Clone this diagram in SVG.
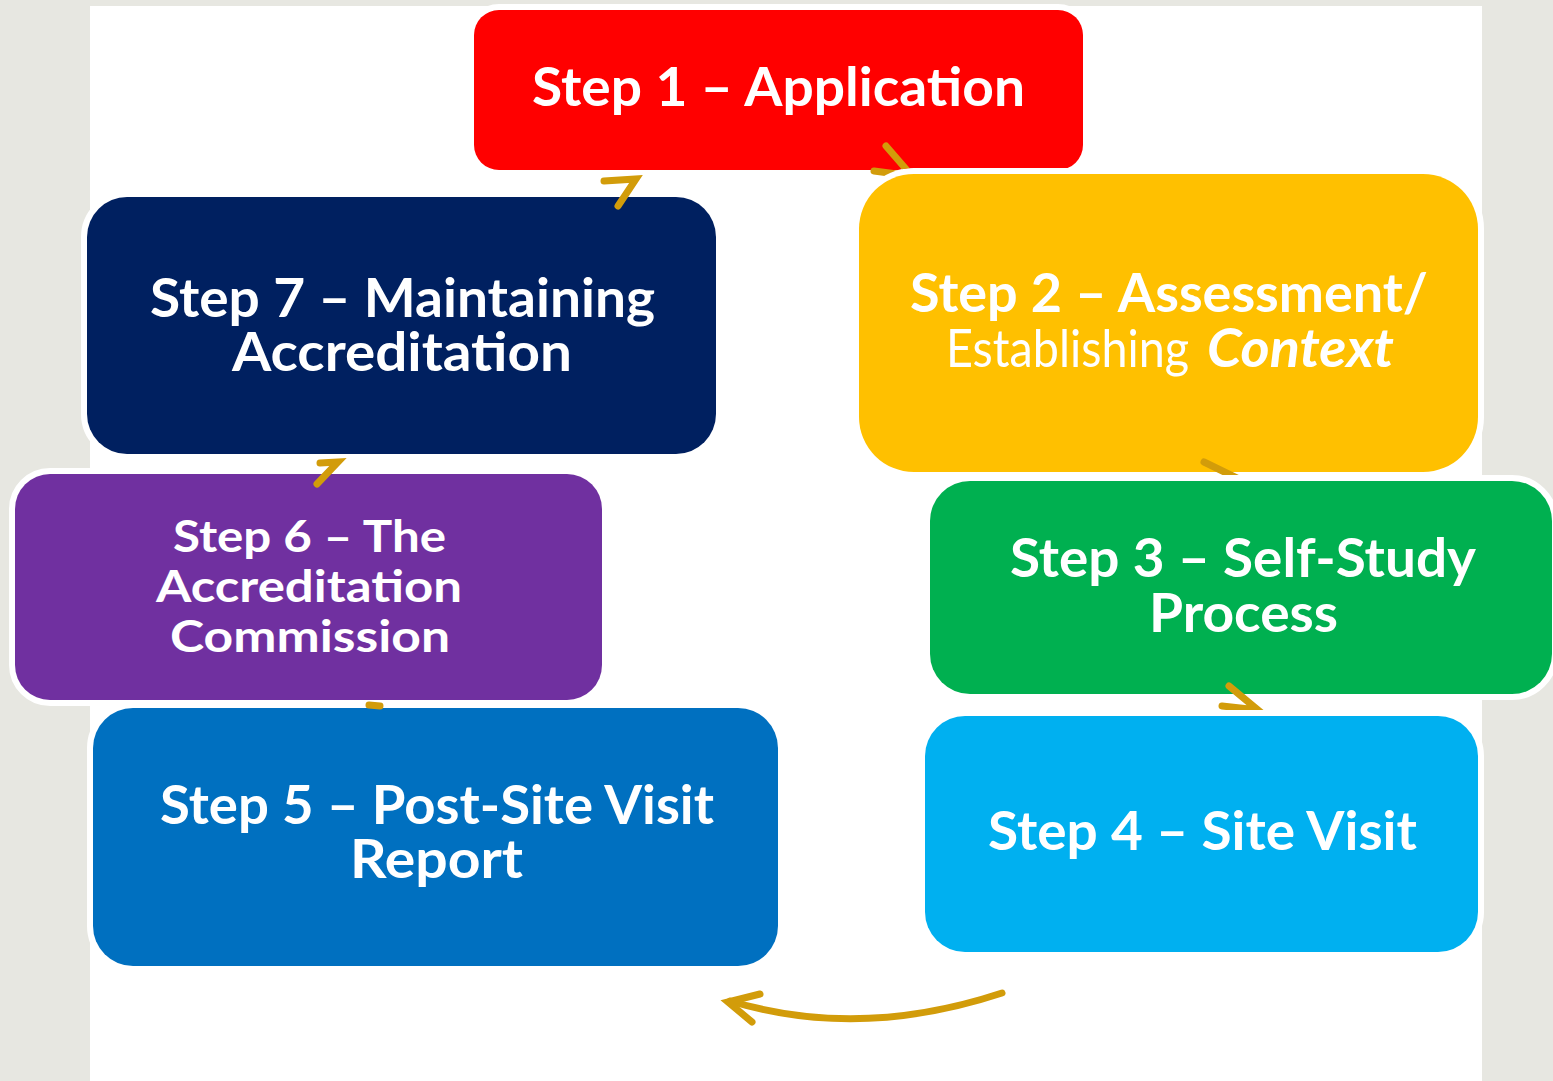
<svg xmlns="http://www.w3.org/2000/svg" width="1553" height="1081" viewBox="0 0 1553 1081">
<style>
.box{stroke:#ffffff;stroke-width:12;paint-order:stroke}
.t{font-family:Lato,"Open Sans","Liberation Sans",sans-serif;font-weight:bold;fill:#ffffff}
.arr{fill:none;stroke:#d29c0a;stroke-width:7;stroke-linecap:round;stroke-linejoin:miter}
</style>
<defs>
<mask id="m2" maskUnits="userSpaceOnUse" x="0" y="0" width="1553" height="1081">
<rect x="0" y="0" width="1553" height="1081" fill="#fff"/>
<rect x="853" y="168" width="631" height="310" rx="61" fill="#000"/>
</mask>
<mask id="m3" maskUnits="userSpaceOnUse" x="0" y="0" width="1553" height="1081">
<rect x="0" y="0" width="1553" height="1081" fill="#fff"/>
<rect x="924" y="475" width="640" height="225" rx="46" fill="#000"/>
</mask>
<mask id="m4" maskUnits="userSpaceOnUse" x="0" y="0" width="1553" height="1081">
<rect x="0" y="0" width="1553" height="1081" fill="#fff"/>
<rect x="919" y="710" width="565" height="248" rx="46" fill="#000"/>
</mask>
</defs>
<rect x="0" y="0" width="1553" height="1081" fill="#e7e7e1"/>
<rect x="90" y="6" width="1392" height="1075" fill="#ffffff"/>

<g id="step1">
<rect class="box" x="474" y="10" width="609" height="160" rx="25" fill="#ff0000"/>
<text class="t" x="532" y="106" font-size="53" textLength="493" lengthAdjust="spacingAndGlyphs">Step 1 – Application</text>
</g>
<g id="step2">
<rect class="box" x="859" y="174" width="619" height="298" rx="55" fill="#ffc000"/>
<text class="t" x="910" y="312" font-size="53" textLength="518" lengthAdjust="spacingAndGlyphs">Step 2 – Assessment/</text>
<text class="t" x="946" y="367" font-size="53" font-weight="normal" style="font-weight:normal" textLength="243" lengthAdjust="spacingAndGlyphs">Establishing</text>
<text class="t" x="1207" y="367" font-size="53" font-style="italic" textLength="187" lengthAdjust="spacingAndGlyphs">Context</text>
</g>
<g id="step3">
<rect class="box" x="930" y="481" width="622" height="213" rx="40" fill="#00b050"/>
<text class="t" x="1010" y="577" font-size="53" textLength="466" lengthAdjust="spacingAndGlyphs">Step 3 – Self-Study</text>
<text class="t" x="1149" y="632" font-size="53" textLength="189" lengthAdjust="spacingAndGlyphs">Process</text>
</g>
<g id="step4">
<rect class="box" x="925" y="716" width="553" height="236" rx="40" fill="#00b0f0"/>
<text class="t" x="988" y="850" font-size="53" textLength="429" lengthAdjust="spacingAndGlyphs">Step 4 – Site Visit</text>
</g>
<g id="step5">
<rect class="box" x="93" y="708" width="685" height="258" rx="40" fill="#0070c0"/>
<text class="t" x="160" y="824" font-size="53" textLength="554" lengthAdjust="spacingAndGlyphs">Step 5 – Post-Site Visit</text>
<text class="t" x="350" y="878" font-size="53" textLength="173" lengthAdjust="spacingAndGlyphs">Report</text>
</g>
<g id="step6">
<rect class="box" x="15" y="474" width="587" height="226" rx="35" fill="#7030a0"/>
<text class="t" x="173" y="552" font-size="44" textLength="273" lengthAdjust="spacingAndGlyphs">Step 6 – The</text>
<text class="t" x="156" y="602" font-size="44" textLength="306" lengthAdjust="spacingAndGlyphs">Accreditation</text>
<text class="t" x="170" y="652" font-size="44" textLength="280" lengthAdjust="spacingAndGlyphs">Commission</text>
</g>
<g id="step7">
<rect class="box" x="87" y="197" width="629" height="257" rx="40" fill="#002060"/>
<text class="t" x="150" y="317" font-size="53" textLength="505" lengthAdjust="spacingAndGlyphs">Step 7 – Maintaining</text>
<text class="t" x="232" y="371" font-size="53" textLength="340" lengthAdjust="spacingAndGlyphs">Accreditation</text>
</g>

<g id="connectors">
<path class="arr" mask="url(#m2)" d="M874,171 L912,176 L886,146"/>
<path class="arr" mask="url(#m3)" d="M1204,462 L1245,482"/>
<path class="arr" mask="url(#m4)" d="M1222,706 L1258,710 L1229,686"/>
<path class="arr" d="M1002,993 Q860,1040 730,1001"/>
<path class="arr" d="M760,994 L728,1002 L752,1022"/>
<path class="arr" stroke-width="4" d="M369,705 L380,706"/>
<path class="arr" d="M320,463 L338,462 L317,484"/>
<path class="arr" d="M604,181 L636,179 L618,206"/>
</g>
</svg>
